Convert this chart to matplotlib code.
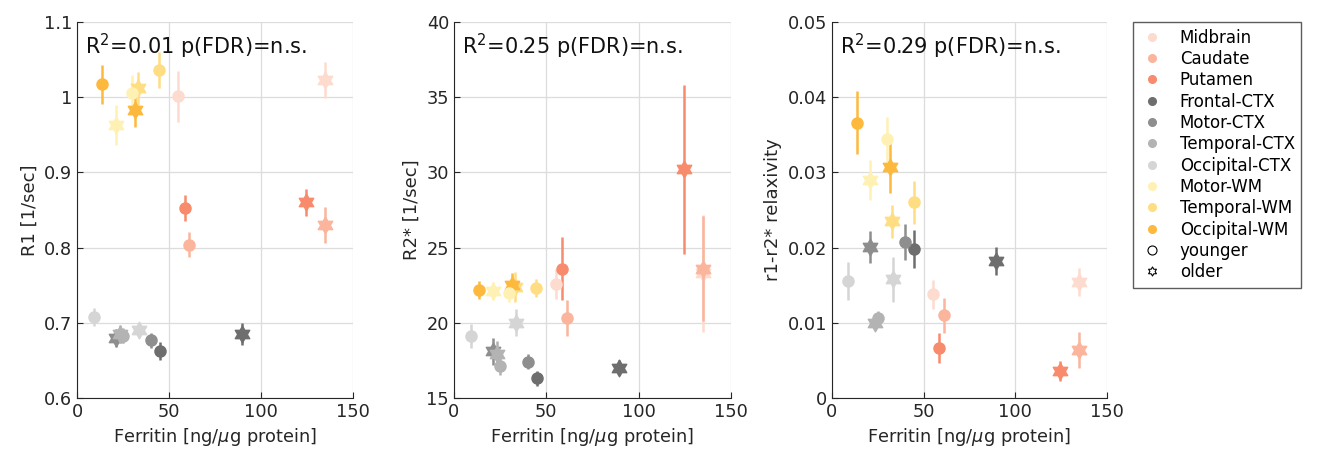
import numpy as np
import matplotlib.pyplot as plt
from matplotlib.path import Path
from matplotlib.lines import Line2D

# regions, colours for each
regions = ['Midbrain', 'Caudate', 'Putamen', 'Frontal-CTX', 'Motor-CTX',
           'Temporal-CTX', 'Occipital-CTX', 'Motor-WM', 'Temporal-WM', 'Occipital-WM']
colors = ['#fddbcf', '#fbb59d', '#f88b6c', '#6e6e6e', '#8e8e8e',
          '#b3b3b3', '#d5d5d5', '#fff1b3', '#ffdd82', '#fdb93e']

# ferritin [ng/ug protein]
ferr_young = [55, 61, 58.5, 45, 40, 25, 9, 30, 44.5, 13.5]
ferr_old = [135, 135, 124.5, 89.5, 21, 23.5, 33.5, 21, 33, 31.5]

# R1 [1/sec]
r1_young = [1.001, 0.804, 0.853, 0.663, 0.677, 0.683, 0.708, 1.005, 1.036, 1.017]
r1_young_err = [0.034, 0.017, 0.017, 0.012, 0.01, 0.01, 0.012, 0.025, 0.024, 0.026]
r1_old = [1.023, 0.830, 0.860, 0.685, 0.680, 0.685, 0.690, 0.963, 1.012, 0.983]
r1_old_err = [0.024, 0.024, 0.018, 0.015, 0.012, 0.012, 0.01, 0.027, 0.022, 0.023]

# R2* [1/sec]
r2_young = [22.6, 20.3, 23.6, 16.3, 17.4, 17.1, 19.1, 22.0, 22.3, 22.2]
r2_young_err = [1.0, 1.2, 2.1, 0.5, 0.5, 0.6, 0.8, 0.6, 0.6, 0.6]
r2_old = [23.3, 23.6, 30.2, 17.0, 18.1, 17.9, 20.0, 22.1, 22.4, 22.5]
r2_old_err = [3.9, 3.5, 5.6, 0.5, 0.9, 0.9, 0.9, 0.6, 1.0, 0.8]

# r1-r2* relaxivity
rx_young = [0.0138, 0.0110, 0.0066, 0.0198, 0.0208, 0.0106, 0.0156, 0.0344, 0.0260, 0.0366]
rx_young_err = [0.0019, 0.0023, 0.0020, 0.0025, 0.0024, 0.0010, 0.0025, 0.0030, 0.0028, 0.0042]
rx_old = [0.0154, 0.0064, 0.0036, 0.0182, 0.0201, 0.0100, 0.0158, 0.0290, 0.0235, 0.0307]
rx_old_err = [0.0019, 0.0024, 0.0013, 0.0019, 0.0021, 0.0010, 0.0030, 0.0027, 0.0022, 0.0035]

panels = [
    ('R1 [1/sec]', r1_young, r1_young_err, r1_old, r1_old_err, (0.6, 1.1),
     [0.6, 0.7, 0.8, 0.9, 1.0, 1.1], ['0.6', '0.7', '0.8', '0.9', '1', '1.1'], 'R$^2$=0.01 p(FDR)=n.s.'),
    ('R2* [1/sec]', r2_young, r2_young_err, r2_old, r2_old_err, (15, 40),
     [15, 20, 25, 30, 35, 40], ['15', '20', '25', '30', '35', '40'], 'R$^2$=0.25 p(FDR)=n.s.'),
    ('r1-r2* relaxivity', rx_young, rx_young_err, rx_old, rx_old_err, (0, 0.05),
     [0, 0.01, 0.02, 0.03, 0.04, 0.05], ['0', '0.01', '0.02', '0.03', '0.04', '0.05'], 'R$^2$=0.29 p(FDR)=n.s.'),
]

# matlab style hexagram
ang_out = np.deg2rad(90 + 60 * np.arange(6))
ang_in = ang_out + np.deg2rad(30)
verts = []
for a, b in zip(ang_out, ang_in):
    verts.append((np.cos(a), np.sin(a)))
    verts.append((np.cos(b) / np.sqrt(3), np.sin(b) / np.sqrt(3)))
verts.append(verts[0])
hexagram = Path(verts, [Path.MOVETO] + [Path.LINETO] * 11 + [Path.CLOSEPOLY])

plt.rcParams['font.family'] = 'DejaVu Sans'
fig = plt.figure(figsize=(13.17, 4.57), dpi=100)
lefts = [0.0585, 0.3447, 0.6317]
widths = [0.2096, 0.2103, 0.2088]

for k, (ylab, yy, yye, yo, yoe, ylim, yt, ytl, txt) in enumerate(panels):
    ax = fig.add_axes([lefts[k], 0.129, widths[k], 0.823])
    for i in range(len(regions)):
        ax.errorbar(ferr_young[i], yy[i], yerr=yye[i], fmt='o', color=colors[i],
                    ms=8, elinewidth=1.8, capsize=0, zorder=3)
        ax.errorbar(ferr_old[i], yo[i], yerr=yoe[i], fmt='none', ecolor=colors[i],
                    elinewidth=1.8, capsize=0, zorder=3)
        ax.plot(ferr_old[i], yo[i], marker=hexagram, color=colors[i], ms=12,
                ls='none', zorder=3)
    ax.set_xlim(0, 150)
    ax.set_ylim(*ylim)
    ax.set_xticks([0, 50, 100, 150])
    ax.set_yticks(yt)
    ax.set_yticklabels(ytl)
    ax.grid(True, color='#dcdcdc', lw=0.9)
    ax.set_axisbelow(True)
    for s in ['top', 'right']:
        ax.spines[s].set_visible(False)
    for s in ['left', 'bottom']:
        ax.spines[s].set_color('#262626')
    ax.tick_params(direction='in', length=4, labelsize=12.8, colors='#262626')
    ax.set_xlabel('Ferritin [ng/$\\mu$g protein]', fontsize=12.8, color='#262626')
    ax.set_ylabel(ylab, fontsize=13, color='#262626')
    ax.text(0.03, 0.975, txt, transform=ax.transAxes, va='top', ha='left',
            fontsize=15, color='#111111')

handles = [Line2D([], [], marker='o', ls='none', color=c, ms=5.5) for c in colors]
handles.append(Line2D([], [], marker='o', ls='none', mfc='none', mec='k', ms=6.5, mew=0.8))
handles.append(Line2D([], [], marker=hexagram, ls='none', mfc='none', mec='k', ms=6.5, mew=0.8))
labels = regions + ['younger', 'older']
fig.legend(handles, labels, loc='upper left', bbox_to_anchor=(0.8603, 0.952),
           borderaxespad=0, fontsize=12, frameon=True, fancybox=False,
           edgecolor='#333333', handletextpad=0.9, labelspacing=0.2,
           borderpad=0.4, handlelength=1.5)

fig.savefig('out.png', dpi=100)
